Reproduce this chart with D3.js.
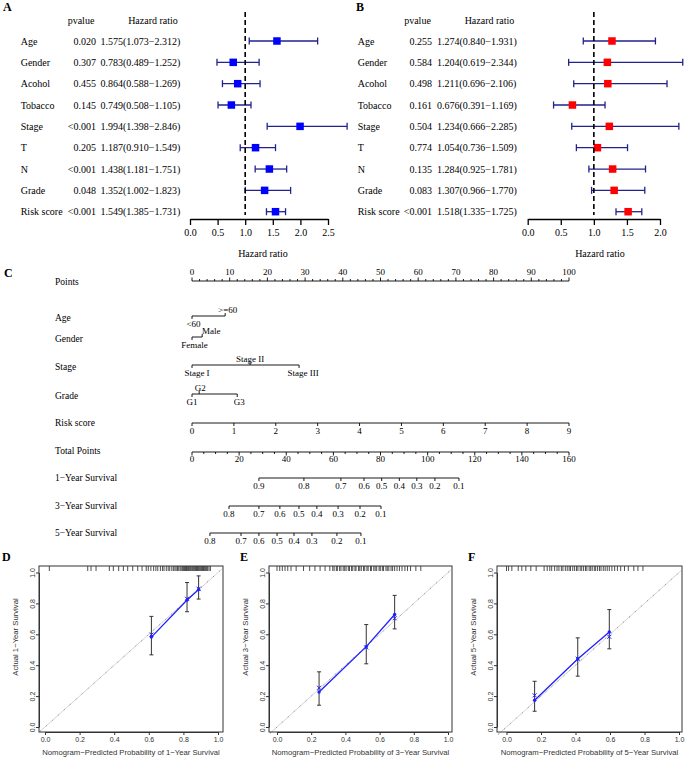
<!DOCTYPE html>
<html><head><meta charset="utf-8">
<script src="https://cdn.jsdelivr.net/npm/d3@7"></script>
<style>body{margin:0;background:#fff}svg{display:block}</style>
</head><body>
<svg id="chart" width="685" height="760"></svg>
<script>
// ---------------- DATA ----------------
const forestVars = ["Age","Gender","Acohol","Tobacco","Stage","T","N","Grade","Risk score"];
// A: univariate
const uniP  = ["0.020","0.307","0.455","0.145","<0.001","0.205","<0.001","0.048","<0.001"];
const uniHR = [1.575,0.783,0.864,0.749,1.994,1.187,1.438,1.352,1.549];
const uniLo = [1.073,0.489,0.588,0.508,1.398,0.910,1.181,1.002,1.385];
const uniHi = [2.312,1.252,1.269,1.105,2.846,1.549,1.751,1.823,1.731];
// B: multivariate
const multiP  = ["0.255","0.584","0.498","0.161","0.504","0.774","0.135","0.083","<0.001"];
const multiHR = [1.274,1.204,1.211,0.676,1.234,1.054,1.284,1.307,1.518];
const multiLo = [0.840,0.619,0.696,0.391,0.666,0.736,0.925,0.966,1.335];
const multiHi = [1.931,2.344,2.106,1.169,2.285,1.509,1.781,1.770,1.725];
const hrTicksA = [0,0.5,1,1.5,2,2.5];
const hrTicksB = [0,0.5,1,1.5,2];

// C: nomogram
const pointsTicks = [0,10,20,30,40,50,60,70,80,90,100];
const ageLevels = ["<60",">=60"];          const agePts = [0,8.8];
const genderLevels = ["Female","Male"];    const genderPts = [0,2.7];
const stageLevels = ["Stage I","Stage II","Stage III"]; const stagePts = [0,15.4,28.4];
const gradeLevels = ["G1","G2","G3"];      const gradePts = [0,1.9,12.0];
const riskTicks = [0,1,2,3,4,5,6,7,8,9];
const totalTicks = [0,20,40,60,80,100,120,140,160];
const surv1Labels = ["0.9","0.8","0.7","0.6","0.5","0.4","0.3","0.2","0.1"];
const surv1Total  = [28.4,47.5,63.2,73.0,80.5,88.0,95.4,103.1,113.3];
const surv3Labels = ["0.8","0.7","0.6","0.5","0.4","0.3","0.2","0.1"];
const surv3Total  = [15.7,28.4,37.3,45.4,53.0,62.0,71.3,80.2];
const surv5Labels = ["0.8","0.7","0.6","0.5","0.4","0.3","0.2","0.1"];
const surv5Total  = [7.6,20.8,28.4,36.1,43.3,50.9,61.5,71.7];

// D/E/F: calibration
const calTicks = [0,0.2,0.4,0.6,0.8,1.0];
const cal1Pred = [0.615,0.821,0.888];
const cal1Obs  = [0.582,0.822,0.890];
const cal1Corr = [0.598,0.830,0.895];
const cal1Lo   = [0.467,0.746,0.828];
const cal1Hi   = [0.716,0.935,0.978];
const cal1Rug  = [0.025,0.247,0.266,0.295,0.372,0.395,0.426,0.453,0.478,0.507,0.536,0.561,0.585,0.597,0.612,0.628,0.641,0.652,0.667,0.679,0.688,0.701,0.712,0.721,0.733,0.742,0.751,0.758,0.766,0.773,0.781,0.787,0.794,0.800,0.806,0.812,0.818,0.823,0.829,0.834,0.840,0.845,0.851,0.856,0.861,0.866,0.871,0.876,0.881,0.886,0.891,0.896,0.901,0.906,0.911,0.916,0.921,0.927,0.933,0.940,0.948,0.956];
const cal3Pred = [0.246,0.522,0.688];
const cal3Obs  = [0.226,0.520,0.728];
const cal3Corr = [0.254,0.515,0.704];
const cal3Lo   = [0.141,0.409,0.635];
const cal3Hi   = [0.357,0.663,0.852];
const cal3Rug  = [0.0,0.016,0.031,0.047,0.063,0.082,0.112,0.155,0.191,0.222,0.252,0.281,0.309,0.326,0.334,0.347,0.353,0.366,0.374,0.387,0.396,0.404,0.417,0.424,0.436,0.443,0.456,0.462,0.477,0.484,0.493,0.506,0.513,0.526,0.533,0.547,0.552,0.566,0.574,0.583,0.597,0.604,0.616,0.623,0.637,0.645,0.654,0.667,0.676,0.688,0.702,0.716,0.731,0.748,0.763,0.781,0.812,0.841];
const cal5Pred = [0.163,0.413,0.596];
const cal5Obs  = [0.173,0.440,0.615];
const cal5Corr = [0.205,0.442,0.584];
const cal5Lo   = [0.102,0.329,0.506];
const cal5Hi   = [0.296,0.577,0.760];
const cal5Rug  = [0.0,0.012,0.031,0.068,0.089,0.112,0.141,0.172,0.218,0.236,0.251,0.262,0.279,0.293,0.304,0.318,0.327,0.341,0.352,0.363,0.371,0.384,0.395,0.406,0.414,0.427,0.436,0.447,0.458,0.466,0.479,0.488,0.497,0.509,0.517,0.528,0.539,0.548,0.561,0.572,0.584,0.596,0.611,0.627,0.643,0.662,0.684,0.706,0.738,0.762,0.791];

// ---------------- DRAW ----------------
const SERIF = "'Liberation Serif','Times New Roman',Times,serif";
const SANS = "'Liberation Sans',Arial,Helvetica,sans-serif";
const svg = d3.select("#chart");
const f3 = d3.format(".3f");

function drawForest(o) {
  const g = svg.append("g").attr("font-family", SERIF).attr("font-size", 10).attr("fill", "#000");
  const x = d3.scaleLinear().domain([o.ticks[0], o.ticks[o.ticks.length - 1]]).range([o.x0, o.x1]);
  const y = d3.scalePoint().domain(forestVars).range([41, 211.7]);
  g.append("text").attr("x", o.letterX).attr("y", 11).attr("font-weight", "bold").attr("font-size", 12).text(o.letter);
  g.append("text").attr("x", o.pHeadX).attr("y", 20.7).attr("dy", "0.35em").attr("text-anchor", "middle").text("pvalue");
  g.append("text").attr("x", o.hrHeadX).attr("y", 20.7).attr("dy", "0.35em").attr("text-anchor", "middle").text("Hazard ratio");
  const data = forestVars.map((v, i) => ({v, p: o.p[i], hr: o.hr[i], lo: o.lo[i], hi: o.hi[i]}));
  const rows = g.selectAll("g.row").data(data).join("g").attr("class", "row");
  rows.append("text").attr("x", o.labelX).attr("y", d => y(d.v)).attr("dy", "0.35em").text(d => d.v);
  rows.append("text").attr("x", o.pX).attr("y", d => y(d.v)).attr("dy", "0.35em").attr("text-anchor", "end").text(d => d.p);
  rows.append("text").attr("x", o.hrX).attr("y", d => y(d.v)).attr("dy", "0.35em")
    .text(d => `${f3(d.hr)}(${f3(d.lo)}\u2212${f3(d.hi)})`);
  const ciCol = "#22228f";
  rows.append("line").attr("x1", d => x(d.lo)).attr("x2", d => x(d.hi)).attr("y1", d => y(d.v)).attr("y2", d => y(d.v))
    .attr("stroke", ciCol).attr("stroke-width", 1.3);
  rows.append("line").attr("x1", d => x(d.lo)).attr("x2", d => x(d.lo)).attr("y1", d => y(d.v) - 3.5).attr("y2", d => y(d.v) + 3.5)
    .attr("stroke", ciCol).attr("stroke-width", 1.3);
  rows.append("line").attr("x1", d => x(d.hi)).attr("x2", d => x(d.hi)).attr("y1", d => y(d.v) - 3.5).attr("y2", d => y(d.v) + 3.5)
    .attr("stroke", ciCol).attr("stroke-width", 1.3);
  g.append("line").attr("x1", x(1)).attr("x2", x(1)).attr("y1", 12).attr("y2", 215)
    .attr("stroke", "#000").attr("stroke-width", 1.6).attr("stroke-dasharray", "5,3");
  const s = 7.5;
  rows.append("rect").attr("x", d => x(d.hr) - s / 2).attr("y", d => y(d.v) - s / 2).attr("width", s).attr("height", s).attr("fill", o.color);
  const ax = d3.axisBottom(x).tickValues(o.ticks).tickFormat(d3.format(".1f")).tickSize(6).tickSizeOuter(0).tickPadding(4);
  const ag = g.append("g").attr("transform", "translate(0,219)").call(ax);
  ag.attr("font-family", SERIF).attr("font-size", 10);
  ag.selectAll("path,line").attr("stroke", "#000").attr("stroke-width", 1.3);
  ag.selectAll("text").attr("fill", "#000");
  g.append("text").attr("x", o.titleX).attr("y", 253).attr("dy", "0.35em").attr("text-anchor", "middle").text("Hazard ratio");
}

drawForest({letter: "A", letterX: 3, labelX: 20.7, pX: 96, hrX: 100.5, pHeadX: 81, hrHeadX: 153,
  p: uniP, hr: uniHR, lo: uniLo, hi: uniHi, ticks: hrTicksA, x0: 190, x1: 328, color: "#0000ff", titleX: 263});
drawForest({letter: "B", letterX: 356, labelX: 357.7, pX: 432, hrX: 437, pHeadX: 417.5, hrHeadX: 489.5,
  p: multiP, hr: multiHR, lo: multiLo, hi: multiHi, ticks: hrTicksB, x0: 527.7, x1: 660, color: "#ff0000", titleX: 600});

// ---- Nomogram (C) ----
(function () {
  const g = svg.append("g").attr("font-family", SERIF).attr("fill", "#000");
  const px = d3.scaleLinear().domain([0, 100]).range([192, 569]);
  const tx = d3.scaleLinear().domain([0, 160]).range([192, 569]);
  const rx = d3.scaleLinear().domain([0, 9]).range([px(0), px(100)]);
  const LX = 55, FS = 9.5, TFS = 9;
  // horizontal label nudges (layout only)
  const nudge = {"<60": 1.5, ">=60": 2.5, "Female": 2.5, "Male": 9, "Stage I": 5, "Stage II": 0, "Stage III": 4, "G1": 0, "G2": 1, "G3": 2};
  g.append("text").attr("x", 4).attr("y", 273).attr("dy", "0.35em").attr("font-weight", "bold").attr("font-size", 12).text("C");
  const rowLabel = (t, y) => g.append("text").attr("x", LX).attr("y", y).attr("dy", "0.35em").attr("font-size", FS).text(t);
  const hline = (x1, x2, y) => g.append("line").attr("x1", x1).attr("x2", x2).attr("y1", y).attr("y2", y).attr("stroke", "#000").attr("stroke-width", 0.9);
  const tick = (x, y, len) => g.append("line").attr("x1", x).attr("x2", x).attr("y1", y).attr("y2", y + len).attr("stroke", "#000").attr("stroke-width", 0.9);
  const lab = (t, x, y) => g.append("text").attr("x", x).attr("y", y).attr("dy", "0.35em").attr("text-anchor", "middle").attr("font-size", TFS).text(t);

  // Points
  let y = 281;
  rowLabel("Points", y + 0.5);
  hline(px(0), px(100), y);
  d3.range(0, 101, 2).forEach(v => { if (v % 10) tick(px(v), y, -2); });
  pointsTicks.forEach(v => { tick(px(v), y, -3.5); lab(v, px(v), y - 9); });

  // categorical rows
  function catRow(name, y, levels, pts) {
    rowLabel(name, y + 1.5);
    hline(px(d3.min(pts)), px(d3.max(pts)), y);
    levels.forEach((l, i) => {
      const up = i % 2 === 1;
      tick(px(pts[i]), y, up ? -3 : 3);
      lab(l, px(pts[i]) + (nudge[l] || 0), up ? y - 6.5 : y + 8);
    });
  }
  catRow("Age", 316, ageLevels, agePts);
  catRow("Gender", 337, genderLevels, genderPts);
  catRow("Stage", 365, stageLevels, stagePts);
  catRow("Grade", 394, gradeLevels, gradePts);

  // Risk score
  y = 423;
  rowLabel("Risk score", y - 0.5);
  hline(rx(0), rx(9), y);
  riskTicks.forEach(v => { tick(rx(v), y, 3); lab(v, rx(v), y + 7.5); });

  // Total points
  y = 452;
  rowLabel("Total Points", y - 1.5);
  hline(tx(0), tx(160), y);
  d3.range(0, 161, 5).forEach(v => { if (v % 20) tick(tx(v), y, 2); });
  totalTicks.forEach(v => { tick(tx(v), y, 3.5); lab(v, tx(v), y + 7); });

  // survival rows
  function survRow(name, y, labels, tot) {
    rowLabel(name, y);
    hline(tx(d3.min(tot)), tx(d3.max(tot)), y);
    labels.forEach((l, i) => { tick(tx(tot[i]), y, 3); lab(l, tx(tot[i]), y + 7.5); });
  }
  survRow("1\u2212Year Survival", 478, surv1Labels, surv1Total);
  survRow("3\u2212Year Survival", 506, surv3Labels, surv3Total);
  survRow("5\u2212Year Survival", 533, surv5Labels, surv5Total);
})();

// ---- Calibration (D/E/F) ----
function drawCal(o) {
  const g = svg.append("g").attr("font-family", SANS);
  const x = d3.scaleLinear().domain([0, 1]).range([o.x0, o.x1]);
  const y = d3.scaleLinear().domain([0, 1]).range([727, 572.5]);
  const top = 566, bot = 732;
  g.append("text").attr("x", o.letterX).attr("y", 557).attr("dy", "0.35em").attr("font-family", SERIF)
    .attr("font-weight", "bold").attr("font-size", 12).text(o.letter);
  // diagonal
  const t0 = x.invert(o.bx0 + 1), t1 = Math.min(x.invert(o.bx1 - 1), y.invert(top + 1));
  g.append("line").attr("x1", x(t0)).attr("y1", y(t0)).attr("x2", x(t1)).attr("y2", y(t1))
    .attr("stroke", "#cfcfcf").attr("stroke-width", 0.9);
  g.append("line").attr("x1", x(t0)).attr("y1", y(t0)).attr("x2", x(t1)).attr("y2", y(t1))
    .attr("stroke", "#777").attr("stroke-width", 0.9).attr("stroke-dasharray", "1,7");
  // rug
  g.selectAll("line.rug").data(o.rug).join("line").attr("class", "rug")
    .attr("x1", d => x(d)).attr("x2", d => x(d)).attr("y1", top).attr("y2", top + 5)
    .attr("stroke", "#222").attr("stroke-width", 0.8);
  // error bars
  const eb = o.pred.map((p, i) => ({p, lo: o.lo[i], hi: o.hi[i], obs: o.obs[i], corr: o.corr[i]}));
  g.selectAll("line.eb").data(eb).join("line").attr("class", "eb")
    .attr("x1", d => x(d.p)).attr("x2", d => x(d.p)).attr("y1", d => y(d.lo)).attr("y2", d => y(d.hi))
    .attr("stroke", "#333").attr("stroke-width", 1);
  ["lo", "hi"].forEach(k => {
    g.selectAll("line.cap" + k).data(eb).join("line").attr("class", "cap" + k)
      .attr("x1", d => x(d.p) - 2).attr("x2", d => x(d.p) + 2).attr("y1", d => y(d[k])).attr("y2", d => y(d[k]))
      .attr("stroke", "#333").attr("stroke-width", 1);
  });
  // blue line
  g.append("path").datum(eb).attr("fill", "none").attr("stroke", "#1f1fff").attr("stroke-width", 1.3)
    .attr("d", d3.line().x(d => x(d.p)).y(d => y(d.obs)));
  g.selectAll("circle.obs").data(eb).join("circle").attr("class", "obs")
    .attr("cx", d => x(d.p)).attr("cy", d => y(d.obs)).attr("r", 1.7).attr("fill", "#1f1fff");
  const a = 2;
  g.selectAll("path.x").data(eb).join("path").attr("class", "x")
    .attr("d", d => `M${x(d.p) - a},${y(d.corr) - a}L${x(d.p) + a},${y(d.corr) + a}M${x(d.p) - a},${y(d.corr) + a}L${x(d.p) + a},${y(d.corr) - a}`)
    .attr("stroke", "#1f1fff").attr("stroke-width", 1).attr("fill", "none");
  // box
  g.append("rect").attr("x", o.bx0).attr("y", top).attr("width", o.bx1 - o.bx0).attr("height", bot - top)
    .attr("fill", "none").attr("stroke", "#333").attr("stroke-width", 1);
  // x axis
  const xa = g.append("g").attr("transform", `translate(0,${bot})`)
    .call(d3.axisBottom(x).tickValues(calTicks).tickFormat(d3.format(".1f")).tickSize(3).tickSizeOuter(0).tickPadding(2.5));
  xa.attr("font-family", SANS).attr("font-size", 7);
  xa.selectAll("path,line").attr("stroke", "#333");
  xa.selectAll("text").attr("fill", "#333");
  // y axis
  const ya = g.append("g").attr("transform", `translate(${o.bx0},0)`)
    .call(d3.axisLeft(y).tickValues(calTicks).tickFormat(d3.format(".1f")).tickSize(3).tickSizeOuter(0));
  ya.attr("font-family", SANS).attr("font-size", 7);
  ya.selectAll("path,line").attr("stroke", "#333");
  ya.selectAll("text").attr("fill", "#333").attr("x", 0).attr("dy", 0).attr("text-anchor", "middle")
    .attr("transform", "translate(-4.5,0) rotate(-90)");
  // titles
  g.append("text").attr("x", (o.bx0 + o.bx1) / 2).attr("y", 752).attr("dy", "0.35em").attr("text-anchor", "middle")
    .attr("font-size", 7.7).attr("fill", "#333").text(`Nomogram\u2212Predicted Probability of ${o.year}\u2212Year Survival`);
  g.append("text").attr("transform", `translate(${o.bx0 - 23.5},637) rotate(-90)`).attr("dy", "0.35em").attr("text-anchor", "middle")
    .attr("font-size", 7.7).attr("fill", "#333").text(`Actual ${o.year}\u2212Year Survival`);
}

drawCal({letter: "D", letterX: 2, year: 1, bx0: 39, bx1: 223, x0: 45, x1: 218,
  pred: cal1Pred, obs: cal1Obs, corr: cal1Corr, lo: cal1Lo, hi: cal1Hi, rug: cal1Rug});
drawCal({letter: "E", letterX: 240, year: 3, bx0: 269, bx1: 452, x0: 277, x1: 448,
  pred: cal3Pred, obs: cal3Obs, corr: cal3Corr, lo: cal3Lo, hi: cal3Hi, rug: cal3Rug});
drawCal({letter: "F", letterX: 468, year: 5, bx0: 497, bx1: 682, x0: 506.5, x1: 679,
  pred: cal5Pred, obs: cal5Obs, corr: cal5Corr, lo: cal5Lo, hi: cal5Hi, rug: cal5Rug});
</script>
</body></html>
